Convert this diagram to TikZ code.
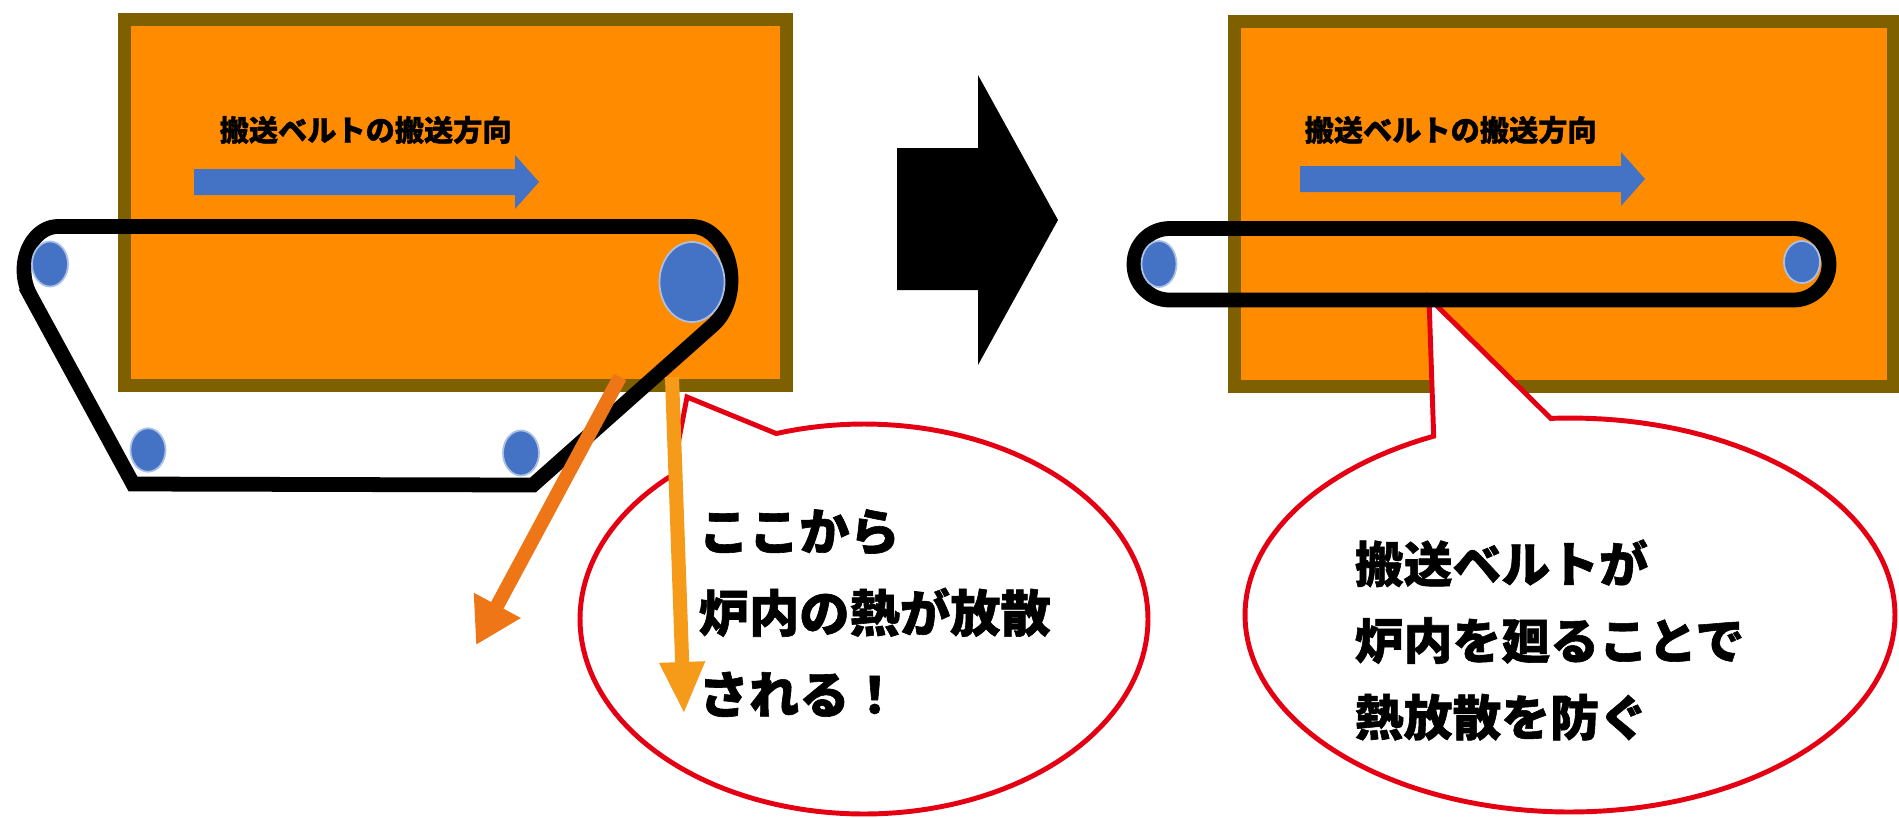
\documentclass[tikz,border=0pt]{standalone}
\usepackage{fontspec}
\newfontfamily\jp{Noto Sans CJK JP}[BoldFeatures={FakeBold=1.2}]
\usetikzlibrary{arrows.meta}
\definecolor{furnace}{RGB}{255,140,0}
\definecolor{furnaceedge}{RGB}{127,96,0}
\definecolor{beltblue}{RGB}{68,114,196}
\definecolor{heatdark}{RGB}{238,118,22}
\definecolor{heatlight}{RGB}{245,155,25}
\definecolor{callred}{RGB}{228,0,18}
\begin{document}
\begin{tikzpicture}[x=0.01cm,y=-0.01cm,
  furnacebox/.style={fill=furnace,draw=furnaceedge,line width=3.9pt},
  belt/.style={draw=black,line width=4.2pt},
  pulley/.style={fill=beltblue,draw=beltblue!45!white,line width=0.5pt},
  dirarrow/.style={fill=beltblue},
  bigarrow/.style={fill=black},
  heatarrow/.style={line width=4pt},
  callout/.style={fill=white,draw=callred,line width=1.4pt,line join=miter},
  dirlabel/.style={font=\jp\bfseries\fontsize{8.3}{10}\selectfont,inner sep=0pt,anchor=west},
  bubbletext/.style={inner sep=0pt,anchor=west,align=left}
]
\useasboundingbox (0,0) rectangle (1899,817);
\fill[white] (0,0) rectangle (1899,817);

% ---------------- left panel ----------------
\draw[furnacebox] (124.5,19.5) rectangle (786.5,385.5);
\node[dirlabel] (labL) at (219,130) {搬送ベルトの搬送方向};
\fill[dirarrow] (194,169) -- (515,169) -- (515,155) -- (539,182) -- (515,209) -- (515,195) -- (194,195) -- cycle;

\draw[belt] (133,484) -- (29.8,294.4)
  -- plot[domain=145.9:270,samples=40] ({58+34*cos(\x)},{270+43.5*sin(\x)})
  -- (692,226.5)
  -- plot[domain=270:418.7,samples=40] ({692+39*cos(\x)},{280+53.5*sin(\x)})
  -- (533,485) -- cycle;

\coordinate (p1) at (50,264);
\coordinate (p2) at (692,282);
\coordinate (p3) at (148,450);
\coordinate (p4) at (521,453);
\draw[pulley] (p1) ellipse [x radius=0.18cm, y radius=0.225cm];
\draw[pulley] (p2) ellipse [x radius=0.325cm, y radius=0.40cm];
\draw[pulley] (p3) ellipse [x radius=0.175cm, y radius=0.217cm];
\draw[pulley] (p4) ellipse [x radius=0.18cm, y radius=0.225cm];

\draw[callout] (687,397)
  -- plot[domain=252:587.5,samples=150] ({864+284*cos(\x)},{619+195*sin(\x)})
  -- cycle;

\coordinate (h1s) at (620,377);
\coordinate (h1e) at (476,645);
\coordinate (h2s) at (672,377);
\coordinate (h2e) at (684,714);
\draw[heatarrow,heatdark,-{Triangle[length=0.45cm,width=0.5cm]}] (h1s) -- (h1e);
\draw[heatarrow,heatlight,-{Triangle[length=0.52cm,width=0.42cm]}] (h2s) -- (h2e);

\node[bubbletext,font=\jp\bfseries\fontsize{14.3}{23.2}\selectfont] (msgL) at (698,613) {ここから\\炉内の熱が放散\\される！};

% ---------------- middle arrow ----------------
\fill[bigarrow] (897,148) -- (978,148) -- (978,75) -- (1058,220) -- (978,365) -- (978,290) -- (897,290) -- cycle;

% ---------------- right panel ----------------
\draw[furnacebox] (1234.5,21.5) rectangle (1894,386.5);
\node[dirlabel] (labR) at (1304,130) {搬送ベルトの搬送方向};
\fill[dirarrow] (1300,166) -- (1621,166) -- (1621,152) -- (1645,179) -- (1621,206) -- (1621,192) -- (1300,192) -- cycle;

\draw[callout] (1429,298)
  -- plot[domain=266.6:605.2,samples=150] ({1570+325*cos(\x)},{615+197*sin(\x)})
  -- cycle;

\draw[belt,rounded corners=0.355cm] (1134,228.5) rectangle (1829,300);
\coordinate (q1) at (1159,264);
\coordinate (q2) at (1802,262);
\draw[pulley] (q1) ellipse [x radius=0.175cm, y radius=0.23cm];
\draw[pulley] (q2) ellipse [x radius=0.18cm, y radius=0.21cm];

\node[bubbletext,font=\jp\bfseries\fontsize{13.9}{21.8}\selectfont] (msgR) at (1354,640) {搬送ベルトが\\炉内を廻ることで\\熱放散を防ぐ};
\end{tikzpicture}
\end{document}
